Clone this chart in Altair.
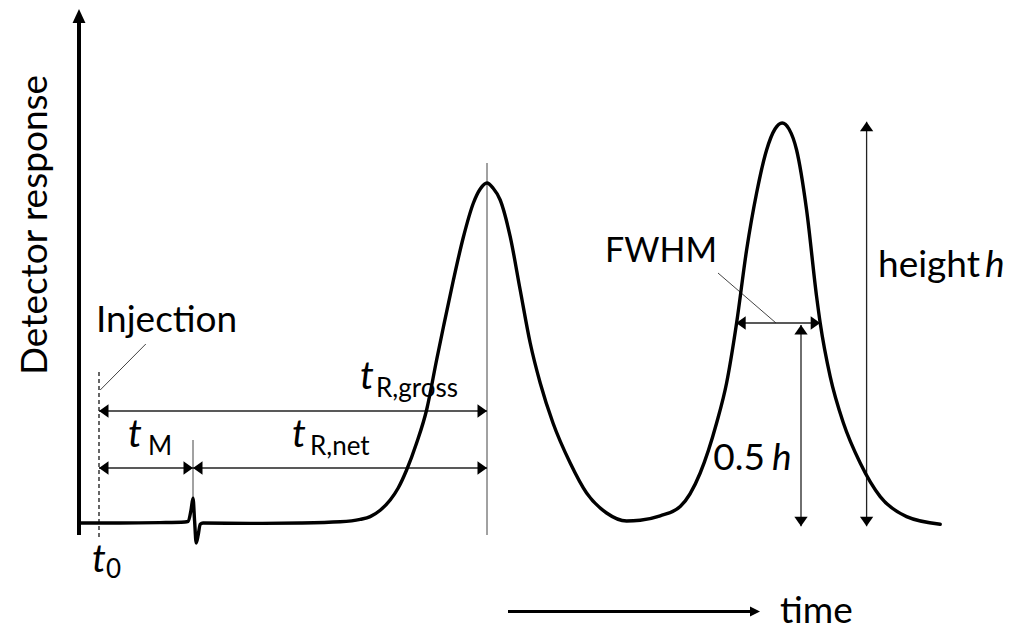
import altair as alt
import pandas as pd

# ---- data: chromatogram trace (arbitrary time units / arbitrary response units)
TIME = [-0.5, 0.52, 1.52, 2.15, 2.23, 2.3, 2.35, 2.39, 2.43, 2.48, 2.53, 2.6, 3.78, 5.03,
        6.03, 6.53, 6.78, 7.03, 7.28, 7.48, 7.69, 7.94, 8.19, 8.44, 8.61, 8.86, 9.11, 9.36,
        9.53, 9.7, 9.85, 10.03, 10.28, 10.53, 10.78, 11.03, 11.35, 11.78, 12.19, 12.69,
        13.19, 13.53, 14.03, 14.53, 15.03, 15.44, 15.69, 15.94, 16.19, 16.44, 16.69, 16.9,
        17.08, 17.25, 17.44, 17.69, 17.94, 18.03, 18.28, 18.61, 19.03, 19.53, 20.19, 21.03]
RESPONSE = [0, 0, 0.1, 0.25, 0.4, 3.2, 6.2, 0.5, -5, -3, -0.3, 0, -0.1, 0,
            0.3, 0.9, 1.6, 3.2, 5.75, 8.75, 13.25, 20, 28.25, 40.75, 49, 60.75, 71.5, 80,
            83.5, 85, 83.75, 80.75, 71.6, 58.25, 45, 35, 25, 15, 7.5, 2.5,
            0.5, 0.7, 1.8, 4.1, 12.5, 25, 35, 50, 68.25, 82.5, 93.25, 98.5,
            100, 98.5, 93.25, 78.25, 56.6, 50, 36.6, 25, 15, 6.6, 1.6, -0.3]

T0 = 0.0          # injection
T_M = 2.35        # dead time (spike)
T_R = 9.7         # retention time of first peak
H1 = 85           # height of first peak
H2 = 100          # height of second peak
FWHM_L, FWHM_R = 15.93, 18.03
X_HALF = 17.55    # 0.5 h arrow
X_HEIGHT = 19.19  # height h arrow

FONT = "Lato"
W, H = 999, 623
xs = alt.Scale(domain=[-2.275, -2.275 + W / 40], nice=False, zero=False)
ys = alt.Scale(domain=[128.75 - H / 4, 128.75], nice=False, zero=False)

X = lambda f: alt.X(f, type="quantitative", scale=xs, axis=None)
Y = lambda f: alt.Y(f, type="quantitative", scale=ys, axis=None)

trace = pd.DataFrame({"t": TIME, "r": RESPONSE})
curve = alt.Chart(trace).mark_line(color="black", strokeWidth=3.4, interpolate="monotone",
                                   strokeCap="round", strokeJoin="round").encode(x=X("t"), y=Y("r"))

# y axis (thick arrow)
axis_df = pd.DataFrame({"t": [-0.5], "r": [-3], "t2": [-0.5], "r2": [125]})
axis_line = alt.Chart(axis_df).mark_rule(color="black", strokeWidth=4).encode(
    x=X("t"), y=Y("r"), x2="t2", y2="r2")

# arrow shafts
shafts = pd.DataFrame([
    (T0, 28, T_R, 28),
    (T0, 13.75, T_M, 13.75),
    (T_M, 13.75, T_R, 13.75),
    (FWHM_L, H2 / 2, FWHM_R, H2 / 2),
    (X_HALF, -0.8, X_HALF, 49.5),
    (X_HEIGHT, -0.8, X_HEIGHT, 100.3),
], columns=["t", "r", "t2", "r2"])
shaft_layer = alt.Chart(shafts).mark_rule(color="#222222", strokeWidth=1.3).encode(
    x=X("t"), y=Y("r"), x2="t2", y2="r2")

time_df = pd.DataFrame({"t": [10.225], "r": [-22.1], "t2": [16.3], "r2": [-22.1]})
time_line = alt.Chart(time_df).mark_rule(color="black", strokeWidth=3).encode(
    x=X("t"), y=Y("r"), x2="t2", y2="r2")

RIGHT = "M0,0L-1,-0.7L-1,0.7Z"
LEFT = "M0,0L1,-0.7L1,0.7Z"
UP = "M0,0L-0.7,1L0.7,1Z"
DOWN = "M0,0L-0.7,-1L0.7,-1Z"
heads = pd.DataFrame([
    (T0, 28, LEFT, 361), (T_R, 28, RIGHT, 361),
    (T0, 13.75, LEFT, 361), (T_M, 13.75, RIGHT, 361),
    (T_M, 13.75, LEFT, 361), (T_R, 13.75, RIGHT, 361),
    (FWHM_L, H2 / 2, LEFT, 361), (FWHM_R, H2 / 2, RIGHT, 361),
    (X_HALF, 49.5, UP, 361), (X_HALF, -0.8, DOWN, 361),
    (X_HEIGHT, 100.3, UP, 361), (X_HEIGHT, -0.8, DOWN, 361),
    (-0.5, 128.5, "M0,0L-0.46,1L0.46,1Z", 784),
    (16.525, -22.1, "M0,0L-1,-0.5L-1,0.5Z", 400),
], columns=["t", "r", "shape", "size"])
head_layer = alt.Chart(heads).mark_point(filled=True, color="black", opacity=1, strokeWidth=0).encode(
    x=X("t"), y=Y("r"), shape=alt.Shape("shape:N", scale=None), size=alt.Size("size:Q", scale=None))

# thin helper lines
thin = pd.DataFrame([
    (T_R, 90, T_R, -3),
    (T_M, 20.75, T_M, 6.25),
    (15.475, 62.5, 16.925, 50),
    (1.17, 44.75, 0.03, 33.25),
], columns=["t", "r", "t2", "r2"])
thin_layer = alt.Chart(thin).mark_rule(color="#444444", strokeWidth=1).encode(
    x=X("t"), y=Y("r"), x2="t2", y2="r2")

dash_df = pd.DataFrame({"t": [T0], "r": [37.75], "t2": [T0], "r2": [-3.5]})
dash_layer = alt.Chart(dash_df).mark_rule(color="black", strokeWidth=1.2, strokeDash=[4, 3]).encode(
    x=X("t"), y=Y("r"), x2="t2", y2="r2")

# texts
def texts(rows, **kw):
    df = pd.DataFrame(rows, columns=["t", "r", "label"])
    return alt.Chart(df).mark_text(font=FONT, color="black", **kw).encode(
        x=X("t"), y=Y("r"), text="label:N")

normal_left = texts([(-0.075, 47.75, "Injection"), (17.025, -25, "time")],
                    align="left", baseline="alphabetic", fontSize=37)
fwhm = texts([(12.65, 65.25, "FWHM")], align="left", baseline="alphabetic", fontSize=34)
normal_right = texts([(22.025, 61.5, "height"), (16.65, 13.25, "0.5")],
                     align="right", baseline="alphabetic", fontSize=37)
italic_t = texts([(6.525, 33.5, "t"), (0.725, 19, "t"), (4.825, 19, "t"), (-0.175, -12.25, "t")],
                 align="left", baseline="alphabetic", fontSize=39, fontStyle="italic")
italic_h = texts([(22.15, 61.5, "h"), (16.825, 13.25, "h")],
                 align="left", baseline="alphabetic", fontSize=37, fontStyle="italic")
subs = texts([(6.925, 31.5, "R,gross"), (1.225, 17, "M"), (5.275, 17, "R,net"), (0.175, -13.75, "0")],
             align="left", baseline="alphabetic", fontSize=26)
ylabel = texts([(-1.3, 74.5, "Detector response")], align="center", baseline="alphabetic",
               fontSize=37, angle=270)

chart = alt.layer(
    dash_layer, thin_layer, shaft_layer, time_line, axis_line, curve, head_layer,
    normal_left, fwhm, normal_right, italic_t, italic_h, subs, ylabel
).properties(width=W, height=H, autosize=alt.AutoSizeParams(type="none"), padding=0
).configure_view(stroke=None)

chart.save("out.html", embed_options={"renderer": "svg", "actions": False})
